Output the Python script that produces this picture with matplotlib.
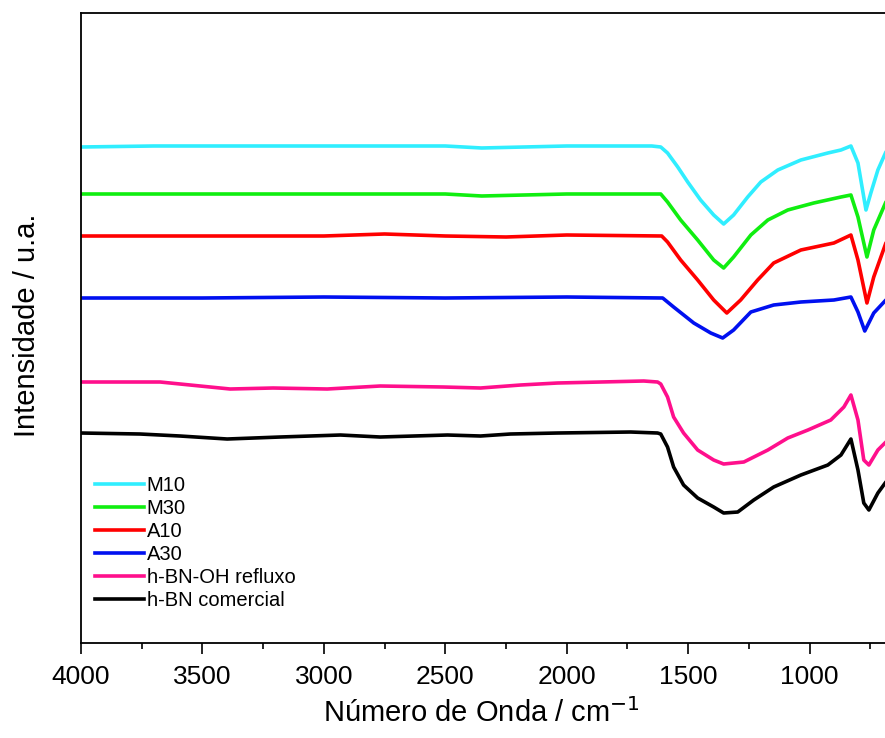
import matplotlib
matplotlib.use("Agg")
import matplotlib.pyplot as plt
from matplotlib.ticker import FixedLocator

plt.rcParams['font.family'] = ['Liberation Sans', 'DejaVu Sans']

# FTIR spectra, wavenumber (cm-1) vs intensity (a.u., stacked)
wn_m10 = [4000, 3700, 3000, 2500, 2350, 2000, 1650, 1613, 1585, 1543, 1502, 1449, 1395,
          1354, 1313, 1255, 1201, 1131, 1036, 925, 871, 830, 801, 768, 748, 719, 686, 650]
m10 = [496, 497, 497, 497, 495, 497, 497, 496, 490, 476, 461, 443, 428,
       419, 428, 446, 461, 473, 483, 490, 493, 497, 480, 433, 450, 473, 491, 500]

wn_m30 = [4000, 3000, 2500, 2350, 2000, 1613, 1585, 1531, 1461, 1395, 1354,
          1313, 1242, 1172, 1090, 983, 871, 830, 801, 764, 736, 686, 650]
m30 = [449, 449, 449, 447, 449, 449, 441, 423, 403, 383, 375,
       386, 408, 423, 433, 440, 446, 448, 426, 386, 413, 441, 448]

wn_a10 = [4000, 3000, 2750, 2500, 2250, 2000, 1609, 1585, 1531, 1461, 1395, 1341,
          1284, 1214, 1148, 1036, 900, 830, 801, 764, 736, 686, 650]
a10 = [407, 407, 409, 407, 406, 408, 407, 401, 383, 363, 343, 330,
       343, 363, 380, 393, 400, 408, 383, 340, 366, 400, 410]

wn_a30 = [4000, 3500, 3000, 2500, 2000, 1605, 1560, 1477, 1407, 1358,
          1313, 1242, 1148, 1036, 900, 830, 801, 773, 736, 686, 650]
a30 = [345, 345, 346, 345, 346, 345, 336, 320, 310, 305,
       313, 331, 338, 341, 343, 346, 331, 312, 330, 343, 346]

wn_oh = [4000, 3674, 3386, 3209, 2986, 2768, 2508, 2355, 2190, 2038, 1683, 1626,
         1613, 1585, 1560, 1519, 1461, 1395, 1354, 1271, 1172, 1090, 1007, 913, 859,
         830, 801, 777, 756, 719, 686, 650]
oh = [261, 261, 254, 255, 254, 257, 256, 255, 258, 260, 262, 261,
      259, 246, 226, 210, 193, 183, 179, 181, 193, 205, 213, 223, 236,
      248, 223, 183, 178, 193, 201, 208]

wn_com = [4000, 3757, 3592, 3398, 3180, 2932, 2768, 2491, 2355, 2232, 2038, 1737, 1626,
          1613, 1585, 1560, 1519, 1461, 1395, 1354, 1296, 1230, 1148, 1036, 925, 871,
          830, 801, 777, 756, 719, 686, 650]
com = [210, 209, 207, 204, 206, 208, 206, 208, 207, 209, 210, 211, 210,
       209, 196, 176, 158, 145, 136, 130, 131, 143, 156, 168, 178, 188,
       204, 173, 140, 133, 150, 161, 168]

series = [
    (wn_m10, m10, '#30EEFF', 'M10'),
    (wn_m30, m30, '#10EE10', 'M30'),
    (wn_a10, a10, '#FF0000', 'A10'),
    (wn_a30, a30, '#0010F0', 'A30'),
    (wn_oh, oh, '#FF0F8C', 'h-BN-OH refluxo'),
    (wn_com, com, '#000000', 'h-BN comercial'),
]

major_ticks = [4000, 3500, 3000, 2500, 2000, 1500, 1000]
minor_ticks = [3750, 3250, 2750, 2250, 1750, 1250, 750]

fig = plt.figure(figsize=(8.85, 7.38), dpi=100)
# axes run past the right edge of the figure
ax = fig.add_axes([0.0915, 0.1287, 0.988, 0.8537])

for x, y, c, lab in series:
    ax.plot(x, y, color=c, lw=2.6, label=lab, solid_joinstyle='round')

ax.set_xlim(4000, 400)
ax.set_ylim(0, 630)
ax.xaxis.set_major_locator(FixedLocator(major_ticks))
ax.xaxis.set_minor_locator(FixedLocator(minor_ticks))
ax.tick_params(axis='x', which='major', direction='out', length=8, width=1.2,
               labelsize=19, pad=8)
ax.tick_params(axis='x', which='minor', direction='out', length=4, width=1.2)
ax.set_yticks([])
for s in ax.spines.values():
    s.set_linewidth(1.3)

ax.set_xlabel('Número de Onda / cm$^{-1}$', fontsize=21)
ax.xaxis.set_label_coords(0.458, -0.088)
ax.set_ylabel('Intensidade / u.a.', fontsize=21)
ax.yaxis.set_label_coords(-0.046, 0.505)

ax.legend(loc='lower left', bbox_to_anchor=(0.0, 0.03), frameon=False,
          fontsize=14.5, handlelength=2.45, handletextpad=0.12, labelspacing=0.2,
          borderaxespad=0.3)

fig.savefig('out.png', dpi=100)
